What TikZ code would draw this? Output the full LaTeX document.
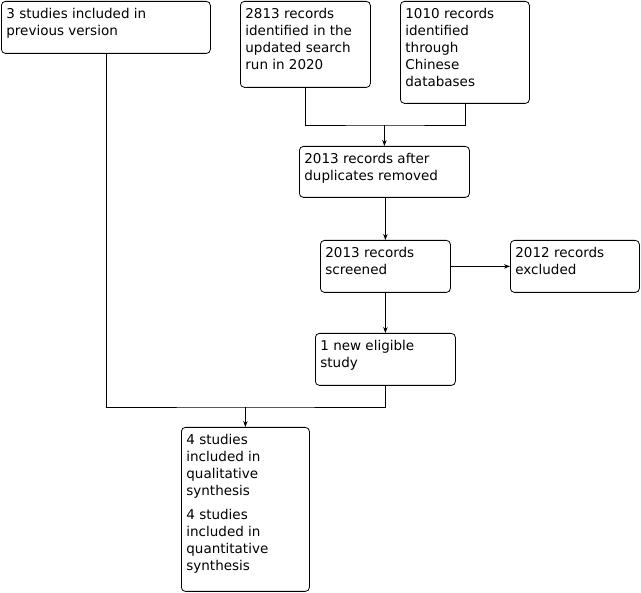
\documentclass[tikz,border=0pt]{standalone}
\usepackage{fontspec}
\setmainfont{DejaVu Sans}
\usetikzlibrary{arrows.meta}
\tikzset{
  flowbox/.style={draw, rounded corners=4pt, line width=0.8pt, anchor=north west,
    inner xsep=5pt, inner ysep=7pt, font=\fontsize{13.5}{17}\selectfont},
  arr/.style={-{Stealth[length=6pt,width=4.5pt]}}
}
\begin{document}
\begin{tikzpicture}[x=1pt,y=-1pt,line width=0.8pt]
\useasboundingbox (0,0) rectangle (641,593);
% top row
\node[flowbox] (prev) at (1,1) {\parbox[t][38pt][t]{199pt}{\raggedright 3 studies included in\\previous version}};
\node[flowbox] (search) at (240,1) {\parbox[t][72pt][t]{120pt}{\raggedright 2813 records\\identified in the\\updated search\\run in 2020}};
\node[flowbox] (chinese) at (400,1) {\parbox[t][88pt][t]{119pt}{\raggedright 1010 records\\identified\\through\\Chinese\\databases}};
% middle
\node[flowbox] (dedup) at (299,146) {\parbox[t][37pt][t]{160pt}{\raggedright 2013 records after\\duplicates removed}};
\node[flowbox] (screen) at (320,240) {\parbox[t][38pt][t]{120pt}{\raggedright 2013 records\\screened}};
\node[flowbox] (excl) at (510,240) {\parbox[t][38pt][t]{119pt}{\raggedright 2012 records\\excluded}};
\node[flowbox] (eligible) at (315,333) {\parbox[t][38pt][t]{130pt}{\raggedright 1 new eligible\\study}};
% bottom
\node[flowbox] (synth) at (181,427) {\parbox[t][150pt][t]{118pt}{\raggedright 4 studies\\included in\\qualitative\\synthesis\\[7pt]4 studies\\included in\\quantitative\\synthesis}};
% connectors
\coordinate (j1) at (dedup.north |- 0,125);
\coordinate (j2) at (synth.north |- 0,407);
\draw (search.south) |- (j1) -| (chinese.south);
\draw[arr] (j1) -- (dedup.north);
\draw[arr] (dedup.south -| screen.south) -- (screen.north);
\draw[arr] (screen.east) -- (excl.west);
\draw[arr] (screen.south) -- (screen.south |- eligible.north);
\draw (prev.south) |- (j2) -| (eligible.south);
\draw[arr] (j2) -- (synth.north);
\end{tikzpicture}
\end{document}
